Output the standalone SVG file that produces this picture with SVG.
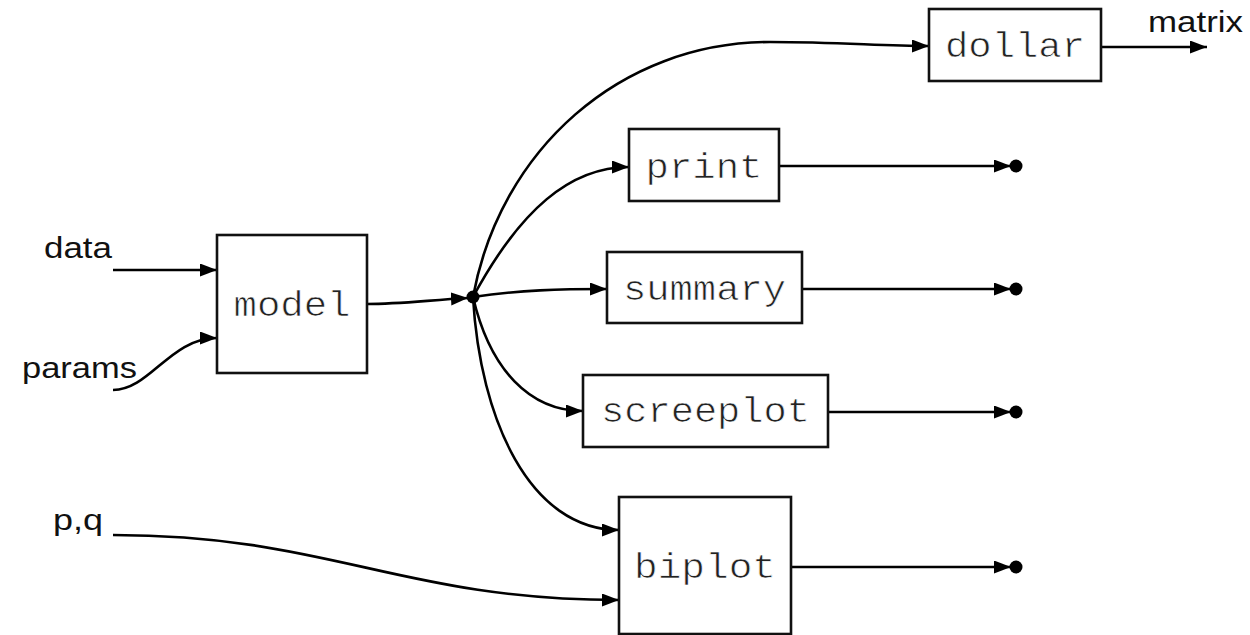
<svg xmlns="http://www.w3.org/2000/svg" width="1250" height="635" viewBox="0 0 1250 635">
<defs>
<style>
.box{fill:#fff;stroke:#111;stroke-width:2.6}
.mono{font-family:"Liberation Mono","Courier New",monospace;font-size:35px;fill:#222;text-anchor:middle;stroke:#fff;stroke-width:0.7}
.lab{font-family:"Liberation Sans",Arial,sans-serif;font-size:30px;fill:#111}
.edge{fill:none;stroke:#000;stroke-width:2.6;marker-end:url(#arr)}
.dot{fill:#000}
</style>
<marker id="arr" markerUnits="userSpaceOnUse" markerWidth="18" markerHeight="14" refX="17" refY="6.5" orient="auto">
<path d="M0,0 L17,6.5 L0,13 z" fill="#000"/>
</marker>
</defs>
<rect width="1250" height="635" fill="#fff"/>
<g id="labels">
<text class="lab" x="44" y="258" textLength="68" lengthAdjust="spacingAndGlyphs">data</text>
<text class="lab" x="22" y="378" textLength="115" lengthAdjust="spacingAndGlyphs">params</text>
<text class="lab" x="53" y="530" textLength="50" lengthAdjust="spacingAndGlyphs">p,q</text>
<text class="lab" x="1148" y="32" textLength="95" lengthAdjust="spacingAndGlyphs">matrix</text>
</g>
<g id="connectors">
<path class="edge" d="M113,270 H217"/>
<path class="edge" d="M113,390 C150,390 170,338 217,338"/>
<path class="edge" d="M367,304 C400,304 430,300 468,298"/>
<path class="edge" d="M473,297 C500,150 620,42 770,42 C840,42 880,46 929,46"/>
<path class="edge" d="M473,297 C520,210 570,167 629,167"/>
<path class="edge" d="M473,297 C520,290 560,289 607,289"/>
<path class="edge" d="M473,297 C490,370 530,411 583,411"/>
<path class="edge" d="M473,297 C480,420 530,530 619,530"/>
<path class="edge" d="M113,535 C330,535 400,600 619,600"/>
<path class="edge" d="M1101,47 H1207"/>
<path class="edge" d="M779,166 H1011"/>
<path class="edge" d="M802,289 H1011"/>
<path class="edge" d="M828,412 H1011"/>
<path class="edge" d="M791,567 H1011"/>
<circle class="dot" cx="473" cy="297" r="6.5"/>
<circle class="dot" cx="1016" cy="166" r="6.5"/>
<circle class="dot" cx="1016" cy="289" r="6.5"/>
<circle class="dot" cx="1016" cy="412" r="6.5"/>
<circle class="dot" cx="1016" cy="567" r="6.5"/>
</g>
<g id="model"><rect class="box" x="217" y="235" width="150" height="138"/><text class="mono" x="292" y="316" textLength="117" lengthAdjust="spacingAndGlyphs">model</text></g>
<g id="dollar"><rect class="box" x="929" y="9" width="172" height="72"/><text class="mono" x="1015" y="57" textLength="140" lengthAdjust="spacingAndGlyphs">dollar</text></g>
<g id="print"><rect class="box" x="629" y="129" width="150" height="72"/><text class="mono" x="704" y="178" textLength="117" lengthAdjust="spacingAndGlyphs">print</text></g>
<g id="summary"><rect class="box" x="607" y="252" width="195" height="71"/><text class="mono" x="704.5" y="300" textLength="163" lengthAdjust="spacingAndGlyphs">summary</text></g>
<g id="screeplot"><rect class="box" x="583" y="375" width="245" height="72"/><text class="mono" x="705.5" y="422" textLength="209" lengthAdjust="spacingAndGlyphs">screeplot</text></g>
<g id="biplot"><rect class="box" x="619" y="497" width="172" height="137"/><text class="mono" x="705" y="578" textLength="142" lengthAdjust="spacingAndGlyphs">biplot</text></g>
</svg>
